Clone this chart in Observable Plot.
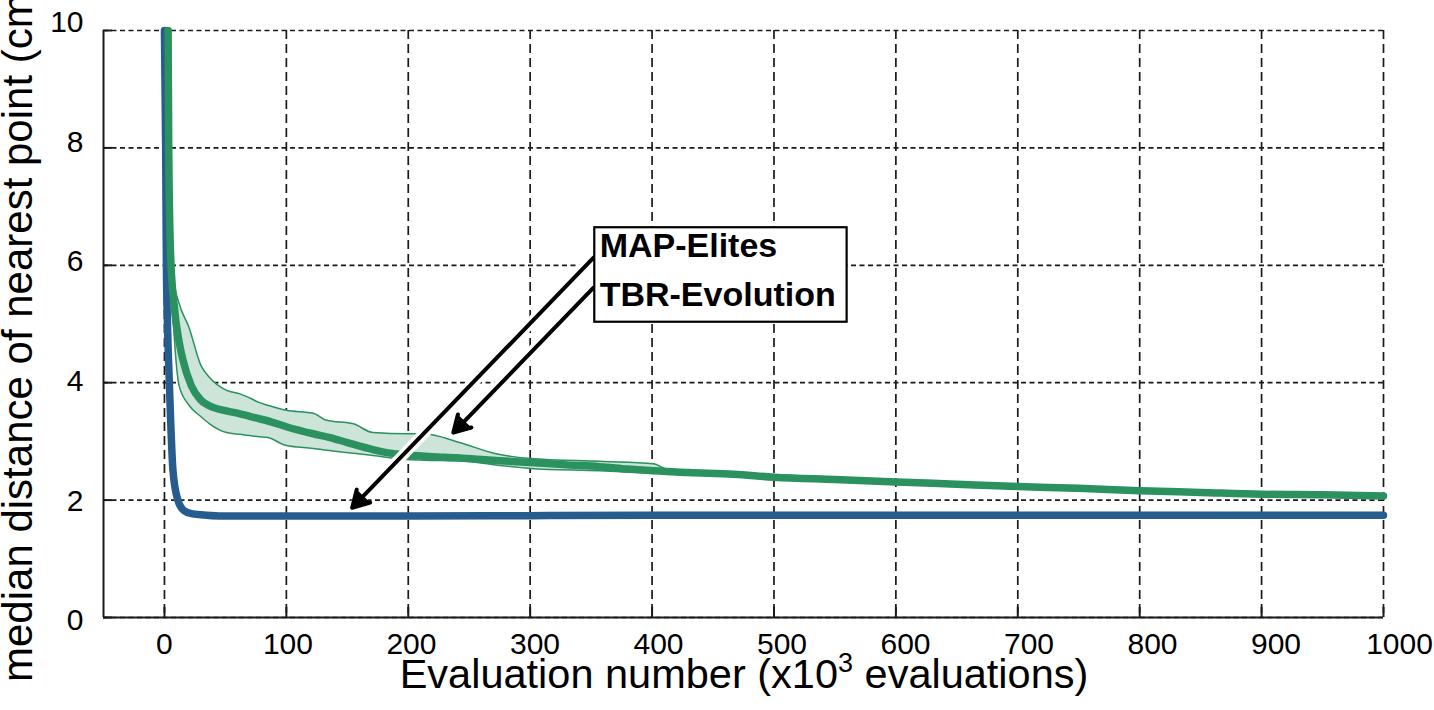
<!DOCTYPE html>
<html>
<head>
<meta charset="utf-8">
<script src="https://cdn.jsdelivr.net/npm/d3@7"></script>
<script src="https://cdn.jsdelivr.net/npm/@observablehq/plot@0.6"></script>
<style>
  html, body { margin: 0; padding: 0; background: #fff; overflow: hidden; }
  svg { display: block; }
</style>
</head>
<body>
<div id="chart"></div>
<script>
// ---- data ----
const xTicks = [0, 100, 200, 300, 400, 500, 600, 700, 800, 900, 1000];
const yTicks = [0, 2, 4, 6, 8, 10];

// MAP-Elites (blue)
const mapX = [0, 1, 1.6, 2.5, 4, 5, 7, 11, 16, 22, 30, 45, 60, 100, 200, 300, 400, 500, 600, 700, 800, 900, 1000];
const mapY = [10, 8, 6, 5, 4, 3.4, 2.5, 2.0, 1.82, 1.77, 1.75, 1.73, 1.73, 1.73, 1.73, 1.735, 1.74, 1.74, 1.74, 1.74, 1.74, 1.74, 1.74];

// TBR-Evolution median (green)
const tbrX = [3, 3.5, 5, 8, 12, 15, 22, 30, 40, 51, 62, 75, 88, 100, 122, 135, 150, 171, 185, 199, 220, 240, 260, 275, 300, 330, 357, 380, 401, 430, 467, 500, 550, 600, 650, 700, 750, 800, 850, 900, 950, 1000];
const tbrMedian = [10, 8, 6.2, 5.3, 4.7, 4.4, 3.95, 3.7, 3.58, 3.52, 3.47, 3.4, 3.33, 3.25, 3.13, 3.07, 2.98, 2.86, 2.8, 2.77, 2.74, 2.72, 2.69, 2.67, 2.64, 2.6, 2.57, 2.53, 2.5, 2.47, 2.44, 2.39, 2.35, 2.31, 2.27, 2.23, 2.2, 2.16, 2.13, 2.1, 2.09, 2.07];

// TBR-Evolution quartile band
const bandX = [3, 3.5, 5, 8, 12, 20, 30, 37, 51, 62, 70, 78, 84, 100, 122, 133, 155, 171, 199, 213, 242, 272, 300, 357, 401, 413, 467, 500, 550, 600, 650, 700, 750, 800, 850, 900, 950, 1000];
const bandUpper = [10, 8, 6.4, 5.7, 5.35, 4.95, 4.29, 4.09, 3.87, 3.81, 3.74, 3.66, 3.62, 3.53, 3.48, 3.36, 3.30, 3.15, 3.13, 3.13, 2.98, 2.79, 2.71, 2.66, 2.62, 2.52, 2.47, 2.43, 2.39, 2.35, 2.30, 2.27, 2.23, 2.19, 2.16, 2.13, 2.11, 2.09];
const bandLower = [10, 8, 6.0, 4.8, 3.95, 3.62, 3.42, 3.30, 3.15, 3.12, 3.10, 3.08, 3.07, 2.93, 2.88, 2.85, 2.80, 2.76, 2.69, 2.68, 2.67, 2.60, 2.54, 2.50, 2.46, 2.45, 2.40, 2.36, 2.32, 2.27, 2.23, 2.19, 2.16, 2.13, 2.10, 2.08, 2.06, 2.05];

// annotation (legend box with arrows), in data units
const labels = ["MAP-Elites", "TBR-Evolution"];
const labelX = [357, 357];
const labelY = [6.32, 5.50];
const arrowFromX = [352, 352];
const arrowFromY = [6.13, 5.62];
const arrowToX = [154, 237];
const arrowToY = [1.87, 3.15];
const boxX = [353, 560];
const boxY = [5.03, 6.64];

const xLabel = "Evaluation number (x10";
const xLabelSup = "3";
const xLabelEnd = " evaluations)";
const yLabel = "median distance of nearest point (cm)";

// ---- build tables ----
const mapData = mapX.map((x, i) => ({x, y: mapY[i]}));
const tbrData = tbrX.map((x, i) => ({x, y: tbrMedian[i]}));
const bandData = bandX.map((x, i) => ({x, hi: bandUpper[i], lo: bandLower[i]}));
const arrows = labels.map((l, i) => ({x1: arrowFromX[i], y1: arrowFromY[i], x2: arrowToX[i], y2: arrowToY[i]}));

const blue = "#275d8e";
const green = "#2a915f";
const bandFill = "#cce5d8";
const gridColor = "#1a1a1a";

const chart = Plot.plot({
  width: 1434,
  height: 710,
  marginLeft: 103,
  marginRight: 51,
  marginTop: 30,
  marginBottom: 93,
  style: {fontFamily: "'Liberation Sans', Arial, sans-serif", color: "#000", background: "#fff"},
  x: {domain: [-50, 1000]},
  y: {domain: [0, 10]},
  marks: [
    Plot.gridX(xTicks, {stroke: gridColor, strokeOpacity: 1, strokeWidth: 1.7, strokeDasharray: "9,5"}),
    Plot.gridY(yTicks, {stroke: gridColor, strokeOpacity: 1, strokeWidth: 1.7, strokeDasharray: "5,3.5"}),
    // solid left & bottom frame
    Plot.ruleX([-50], {stroke: gridColor, strokeWidth: 2}),
    Plot.ruleY([0], {stroke: gridColor, strokeWidth: 2}),
    // inward tick marks
    Plot.ruleX(xTicks, {x: d => d, y1: 0, y2: 0, insetTop: -10, stroke: gridColor, strokeWidth: 2}),
    Plot.ruleY(yTicks, {y: d => d, x1: -50, x2: -50, insetRight: -9, stroke: gridColor, strokeWidth: 2}),
    // tick labels
    Plot.axisX(xTicks, {tickSize: 0, tickPadding: 15, fontSize: 30, label: null, tickFormat: d => String(d), className: "xtl"}),
    Plot.axisY(yTicks, {tickSize: 0, tickPadding: 20, fontSize: 30, label: null, tickFormat: d => String(d), className: "ytl"}),
    // band
    Plot.areaY(bandData, {x: "x", y1: "lo", y2: "hi", fill: bandFill, curve: "monotone-x"}),
    Plot.line(bandData, {x: "x", y: "hi", stroke: green, strokeWidth: 1.5, curve: "monotone-x"}),
    Plot.line(bandData, {x: "x", y: "lo", stroke: green, strokeWidth: 1.5, curve: "monotone-x"}),
    // lines
    Plot.line(mapData, {x: "x", y: "y", stroke: blue, strokeWidth: 7.5, curve: "monotone-x"}),
    Plot.line(tbrData, {x: "x", y: "y", stroke: green, strokeWidth: 7.5, curve: "monotone-x"}),
    // annotation
    Plot.link(arrows, {x1: "x1", y1: "y1", x2: "x2", y2: "y2", stroke: "white", strokeWidth: 11}),
    Plot.arrow(arrows, {x1: "x1", y1: "y1", x2: "x2", y2: "y2", stroke: "black", fill: "black", strokeWidth: 4, headLength: 7, headAngle: 60, strokeLinejoin: "miter"}),
    Plot.rect([0], {x1: boxX[0], x2: boxX[1], y1: boxY[0], y2: boxY[1], fill: "white", stroke: "black", strokeWidth: 2.2}),
    Plot.text(labels, {x: (d, i) => labelX[i], y: (d, i) => labelY[i], text: d => d, textAnchor: "start", fontWeight: "bold", fontSize: 34, fill: "black"})
  ]
});

document.getElementById("chart").append(chart);

const svg = d3.select(chart);

// the reference's tick labels sit on a slightly wider spacing than the grid
svg.selectAll("g.xtl text").each(function(d, i) {
  const v = xTicks[i];
  if (v == null) return;
  d3.select(this).attr("dx", (v * 0.016).toFixed(1));
});
svg.selectAll("g.ytl text").each(function(d, i) {
  const v = yTicks[i];
  if (v == null) return;
  d3.select(this).attr("transform", (this.getAttribute("transform") || "") + ` translate(0,${(3 - 1.1 * v).toFixed(1)})`);
});

// axis titles
const xt = svg.append("text")
  .attr("x", 744).attr("y", 688)
  .attr("text-anchor", "middle")
  .attr("font-size", 41.5)
  .attr("fill", "#000");
xt.append("tspan").text(xLabel);
xt.append("tspan").attr("font-size", 27).attr("dy", -16).text(xLabelSup);
xt.append("tspan").attr("dy", 16).text(xLabelEnd);

svg.append("text")
  .attr("transform", "translate(32,682) rotate(-90)")
  .attr("text-anchor", "start")
  .attr("font-size", 42)
  .attr("fill", "#000")
  .text(yLabel);
</script>
</body>
</html>
